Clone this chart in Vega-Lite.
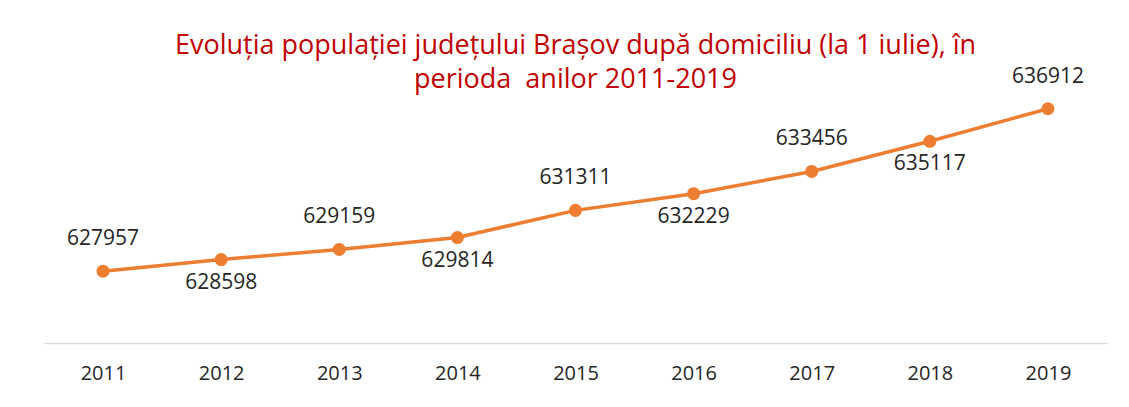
{
  "$schema": "https://vega.github.io/schema/vega-lite/v6.json",
  "width": 1063,
  "height": 254,
  "autosize": {"type": "none"},
  "padding": {"left": 44, "top": 89, "right": 22, "bottom": 64},
  "background": "white",
  "title": {
    "text": ["Evoluția populației județului Brașov după domiciliu (la 1 iulie), în", "perioda\u00a0 anilor 2011-2019"],
    "font": "Open Sans",
    "fontSize": 27,
    "fontWeight": "normal",
    "color": "#C00000",
    "lineHeight": 34,
    "anchor": "middle",
    "offset": -28
  },
  "config": {"view": {"stroke": null}},
  "data": {
    "values": [
      {"year": "2011", "population": 627957},
      {"year": "2012", "population": 628598},
      {"year": "2013", "population": 629159},
      {"year": "2014", "population": 629814},
      {"year": "2015", "population": 631311},
      {"year": "2016", "population": 632229},
      {"year": "2017", "population": 633456},
      {"year": "2018", "population": 635117},
      {"year": "2019", "population": 636912}
    ]
  },
  "encoding": {
    "x": {
      "field": "year",
      "type": "ordinal",
      "scale": {"type": "point", "padding": 0.5},
      "axis": {
        "title": null,
        "labelAngle": 0,
        "labelFont": "Open Sans",
        "labelFontSize": 20,
        "labelColor": "#262626",
        "labelPadding": 20,
        "ticks": false,
        "domainColor": "#d9d9d9",
        "domainWidth": 1.5,
        "grid": false
      }
    },
    "y": {
      "field": "population",
      "type": "quantitative",
      "scale": {"domain": [624000, 638000], "nice": false, "zero": false},
      "axis": null
    }
  },
  "layer": [
    {"mark": {"type": "line", "color": "#ED7D31", "strokeWidth": 3.5}},
    {"mark": {"type": "point", "filled": true, "color": "#ED7D31", "size": 170, "opacity": 1}},
    {
      "transform": [{"filter": "toNumber(datum.year) % 2 == 1"}],
      "mark": {"type": "text", "font": "Open Sans", "fontSize": 21, "color": "#262626", "baseline": "middle", "dy": -32},
      "encoding": {"text": {"field": "population", "type": "nominal"}}
    },
    {
      "transform": [{"filter": "toNumber(datum.year) % 2 == 0"}],
      "mark": {"type": "text", "font": "Open Sans", "fontSize": 21, "color": "#262626", "baseline": "middle", "dy": 23},
      "encoding": {"text": {"field": "population", "type": "nominal"}}
    }
  ]
}
